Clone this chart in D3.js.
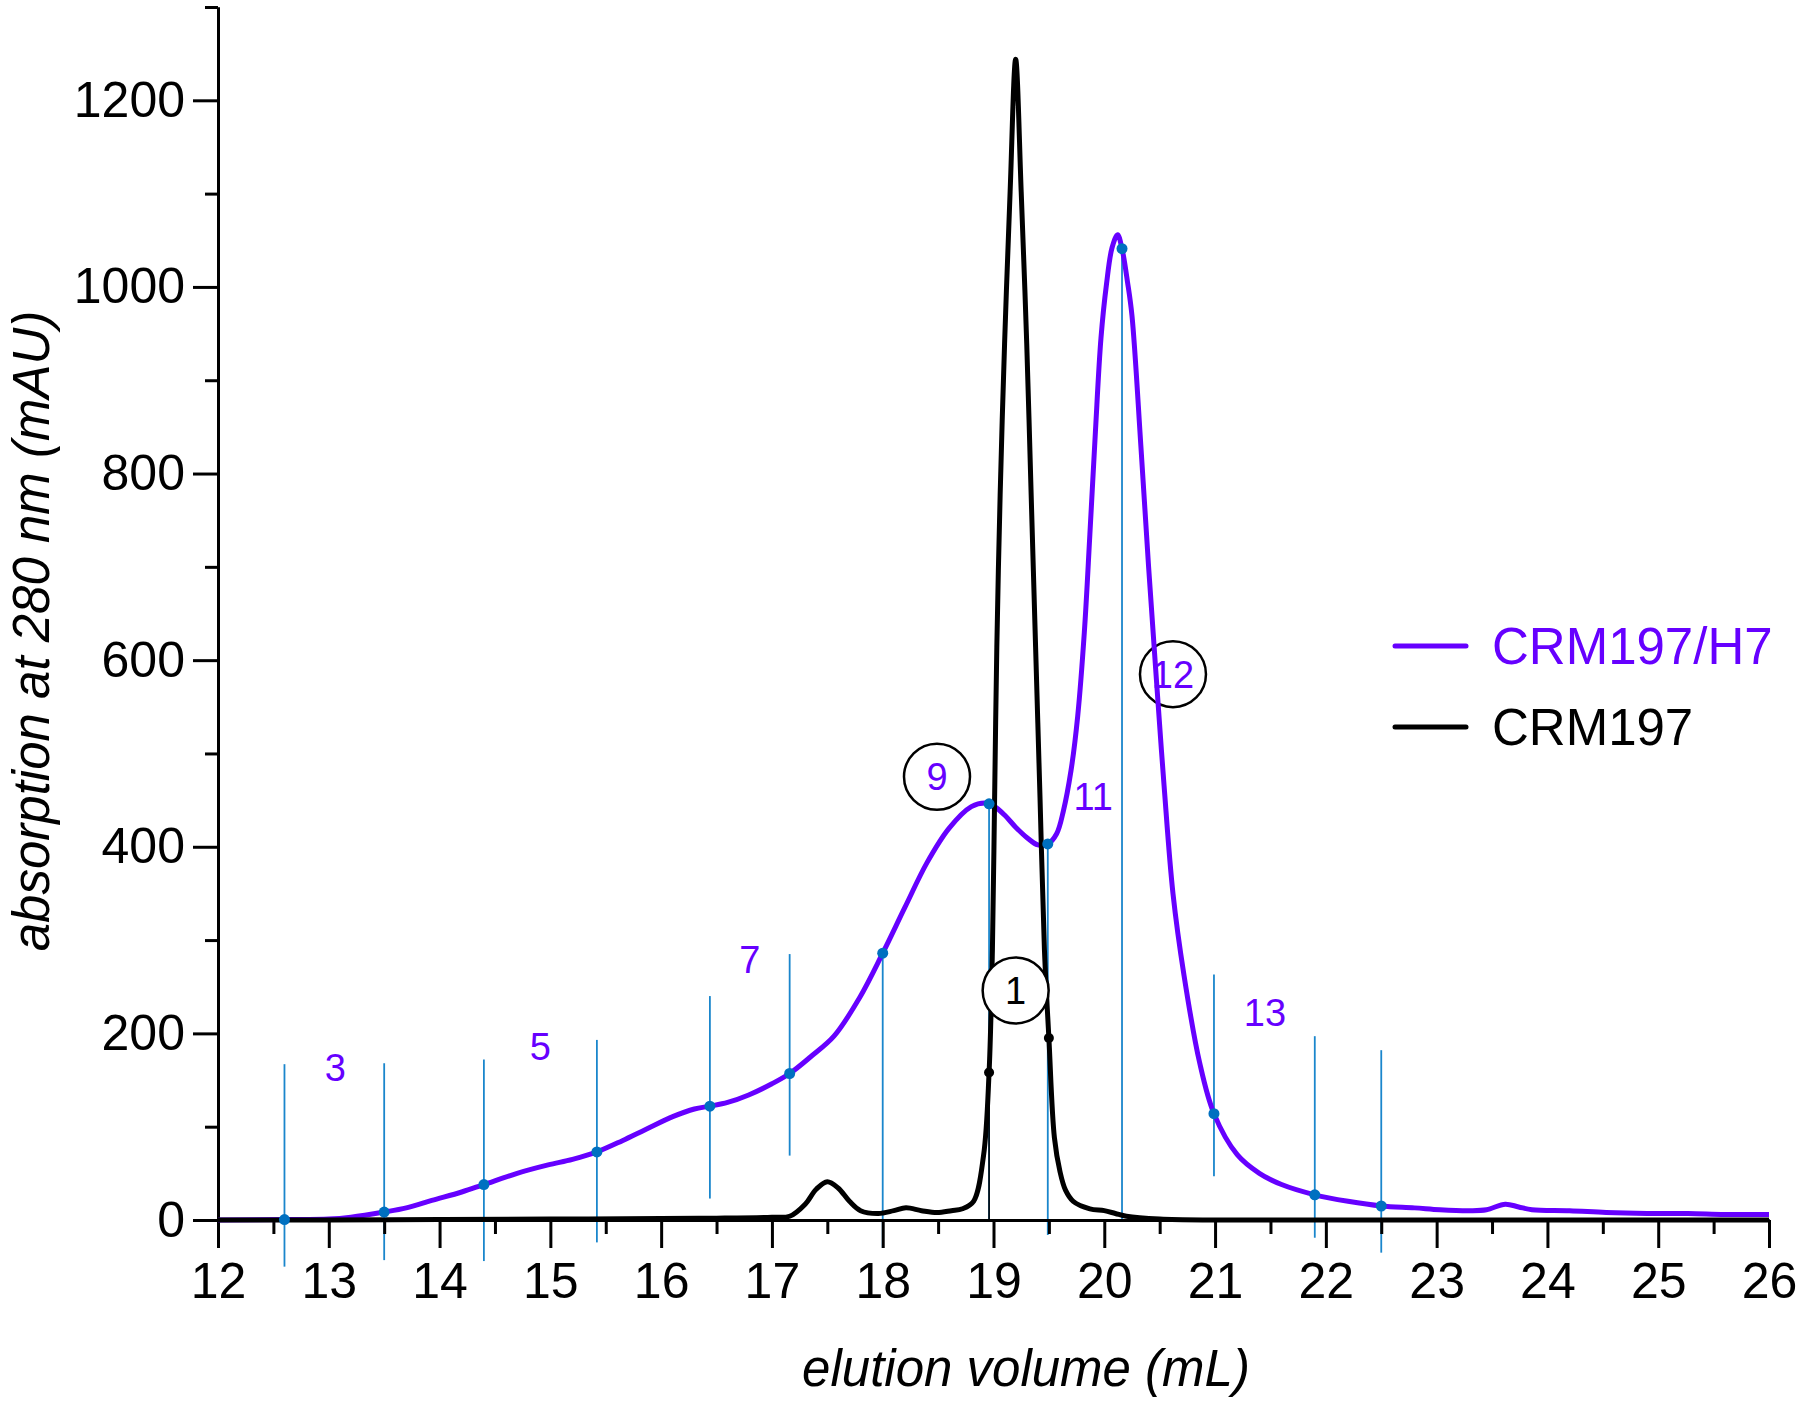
<!DOCTYPE html>
<html>
<head>
<meta charset="utf-8">
<script src="https://cdn.jsdelivr.net/npm/d3@7"></script>
<style>
  html, body { margin: 0; padding: 0; background: #ffffff; }
  svg { display: block; font-family: "Liberation Sans", Arial, sans-serif; }
</style>
</head>
<body>
<svg id="chart" width="1800" height="1407"></svg>
<script>
// ---- Data ----
const seriesNames = ["CRM197/H7", "CRM197"];

// CRM197/H7 trace: elution volume (mL), absorbance (mAU)
const h7Volume = [12.0, 12.6, 13.0, 13.2, 13.5, 13.7, 13.93, 14.2, 14.4, 14.7, 14.98, 15.2, 15.42, 15.65, 15.86, 16.11, 16.3, 16.44, 16.6, 16.79, 17.0, 17.16, 17.35, 17.56, 17.79, 18.0, 18.2, 18.4, 18.6, 18.8, 18.93, 19.0, 19.1, 19.2, 19.3, 19.4, 19.49, 19.57, 19.63, 19.7, 19.76, 19.82, 19.87, 19.92, 19.97, 20.02, 20.07, 20.12, 20.16, 20.21, 20.25, 20.33, 20.4, 20.47, 20.54, 20.62, 20.72, 20.86, 20.99, 21.2, 21.4, 21.6, 21.9, 22.2, 22.5, 22.8, 23.03, 23.3, 23.45, 23.62, 23.74, 23.86, 24.2, 24.53, 24.9, 25.27, 25.6, 26.0];
const h7Abs = [0, 0.5, 1, 3, 8.5, 13, 21, 30, 38, 50, 59, 65, 73, 85, 97, 111, 119, 122, 126, 134, 146, 157, 175, 197, 238, 286, 335, 383, 420, 443, 447, 444, 434, 421, 410, 402, 403, 414, 438, 482, 540, 630, 735, 845, 945, 1003, 1042, 1056, 1041, 1005, 969, 830, 700, 580, 465, 350, 262, 169, 114, 70, 50, 38, 27, 20, 15, 13, 11, 10, 11, 17, 14, 11, 10, 8, 7, 7, 6, 6];

// CRM197 trace
const crmVolume = [12.0, 13.0, 14.0, 15.0, 16.0, 16.5, 17.0, 17.16, 17.3, 17.4, 17.5, 17.6, 17.7, 17.8, 17.96, 18.1, 18.21, 18.35, 18.49, 18.62, 18.72, 18.82, 18.91, 18.96, 18.99, 19.01, 19.03, 19.06, 19.1, 19.15, 19.2, 19.25, 19.3, 19.34, 19.38, 19.42, 19.46, 19.5, 19.55, 19.6, 19.65, 19.72, 19.87, 20.0, 20.1, 20.2, 20.5, 21.0, 22.0, 24.0, 26.0];
const crmAbs = [0, 0, 0.5, 1, 1.5, 2, 3, 4, 17, 33, 41, 34, 20, 10, 7, 10, 13, 10, 8, 10, 12, 20, 69, 158, 289, 452, 614, 777, 939, 1102, 1244, 1102, 939, 777, 614, 452, 289, 195, 88, 52, 32, 20, 12, 10, 7, 4, 1, 0, 0, 0, 0];

// Collected fractions (blue markers)
const fractionVolume = [12.6, 13.5, 14.4, 15.42, 16.44, 17.16, 18.0, 18.96, 19.49, 20.16, 20.99, 21.9, 22.5];
const fractionAbs    = [0.5, 8.5, 38, 73, 122, 157, 286, 446, 403, 1041, 114, 27, 15];
const fractionTop    = [167, 168, 172, 193, 240, 285, 286, 446, 403, 1041, 263, 197, 182];
const fractionBottom = [-50, -43, -44, -24, 23, 69, -30, 0, -16, 0, 47, -19, -35];

// CRM197 fraction marker
const crmMarkVolume = [18.96, 19.5];
const crmMarkAbs = [158, 195];

// Fraction number labels
const fracLabelText = ["3", "5", "7", "11", "13"];
const fracLabelX = [13.06, 14.91, 16.80, 19.90, 21.45];
const fracLabelY = [164, 186, 279, 454, 223];

// Circled fraction labels
const circledText = ["9", "12", "1"];
const circledX = [18.49, 20.62, 19.20];
const circledY = [475, 585, 246];
const circledColor = ["#6600ff", "#6600ff", "#000000"];
const circledOnTop = [false, false, true];

// Axis ticks
const xMajorTicks = d3.range(12, 27, 1);
const xMinorTicks = d3.range(12.5, 26, 1);
const yMajorTicks = [0, 200, 400, 600, 800, 1000, 1200];
const yMinorTicks = [100, 300, 500, 700, 900, 1100, 1300];

const xTitle = "elution volume (mL)";
const yTitle = "absorption at 280 nm (mAU)";

// ---- Drawing ----
const purple = "#6600ff";
const dotBlue = "#0070c0";
const lineBlue = "#1a86cc";

const svg = d3.select("#chart");
const x = d3.scaleLinear().domain([12, 26]).range([218, 1769]);
const y = d3.scaleLinear().domain([0, 1300]).range([1220, 7]);

// Fraction lines (behind curves)
const fr = fractionVolume.map((v, i) => ({v, a: fractionAbs[i], t: fractionTop[i], b: fractionBottom[i]}));
svg.append("g").selectAll("line").data(fr).join("line")
  .attr("x1", d => x(d.v)).attr("x2", d => x(d.v))
  .attr("y1", d => y(d.t)).attr("y2", d => y(d.b))
  .attr("stroke", lineBlue).attr("stroke-width", 1.8);

// thin black line under CRM197 marker
svg.append("line")
  .attr("x1", x(crmMarkVolume[0])).attr("x2", x(crmMarkVolume[0]))
  .attr("y1", y(crmMarkAbs[0])).attr("y2", y(0))
  .attr("stroke", "#000").attr("stroke-width", 1.6);

// Axes
const axisG = svg.append("g");
const xAxis = d3.axisBottom(x).tickValues(xMajorTicks).tickSize(28).tickSizeOuter(0).tickPadding(14).tickFormat(d3.format("d"));
const xAxisMinor = d3.axisBottom(x).tickValues(xMinorTicks).tickSize(14).tickSizeOuter(0).tickFormat("");
const yAxis = d3.axisLeft(y).tickValues(yMajorTicks).tickSize(25).tickSizeOuter(0).tickPadding(8).tickFormat(d3.format("d"));
const yAxisMinor = d3.axisLeft(y).tickValues(yMinorTicks).tickSize(13).tickSizeOuter(0).tickFormat("");

function styleAxis(g) {
  g.selectAll("path.domain").attr("stroke", "#000").attr("stroke-width", 3);
  g.selectAll(".tick line").attr("stroke", "#000").attr("stroke-width", 3);
  g.selectAll(".tick text").attr("fill", "#000").style("font-size", "50px")
    .style("font-family", "'Liberation Sans', Arial, sans-serif");
}
axisG.append("g").attr("transform", "translate(0,1220)").call(xAxisMinor).call(styleAxis);
axisG.append("g").attr("transform", "translate(0,1220)").call(xAxis).call(styleAxis);
axisG.append("g").attr("transform", "translate(218,0)").call(yAxisMinor).call(styleAxis);
axisG.append("g").attr("transform", "translate(218,0)").call(yAxis).call(styleAxis);

// Circled labels
function drawCircled(sel) {
  const g = sel.append("g").attr("transform", d => `translate(${x(d.cx)},${y(d.cy)})`);
  g.append("circle").attr("r", 33).attr("fill", "#fff").attr("stroke", "#000").attr("stroke-width", 2.5);
  g.append("text").attr("text-anchor", "middle").attr("dy", "0.36em")
    .attr("fill", d => d.color).style("font-size", "38px").text(d => d.t);
}
const circled = circledText.map((t, i) => ({t, cx: circledX[i], cy: circledY[i], color: circledColor[i], top: circledOnTop[i]}));
svg.append("g").selectAll("g").data(circled.filter(d => !d.top)).join(enter => { const s = enter.append("g"); drawCircled(s); return s; });

// Curves
const line = d3.line().x(d => x(d[0])).y(d => y(d[1])).curve(d3.curveCatmullRom.alpha(0.5));
const h7Data = h7Volume.map((v, i) => [v, h7Abs[i]]);
const crmData = crmVolume.map((v, i) => [v, crmAbs[i]]);

svg.append("path").datum(h7Data).attr("d", line)
  .attr("fill", "none").attr("stroke", purple).attr("stroke-width", 5).attr("stroke-linejoin", "round");
svg.append("path").datum(crmData).attr("d", line)
  .attr("fill", "none").attr("stroke", "#000").attr("stroke-width", 5).attr("stroke-linejoin", "round");

// Fraction dots
svg.append("g").selectAll("circle").data(fr).join("circle")
  .attr("cx", d => x(d.v)).attr("cy", d => y(d.a)).attr("r", 5.5).attr("fill", dotBlue);
svg.append("g").selectAll("circle").data(crmMarkVolume.map((v, i) => [v, crmMarkAbs[i]])).join("circle")
  .attr("cx", d => x(d[0])).attr("cy", d => y(d[1])).attr("r", 5).attr("fill", "#000");

// Circled label drawn over the CRM197 peak
svg.append("g").selectAll("g").data(circled.filter(d => d.top)).join(enter => { const s = enter.append("g"); drawCircled(s); return s; });

// Fraction labels
svg.append("g").selectAll("text").data(fracLabelText).join("text")
  .attr("x", (d, i) => x(fracLabelX[i])).attr("y", (d, i) => y(fracLabelY[i]))
  .attr("dy", "0.36em").attr("text-anchor", "middle")
  .attr("fill", purple).style("font-size", "38px").text(d => d);

// Legend
const legendColors = [purple, "#000"];
const legendY = [646, 727];
const lg = svg.append("g").selectAll("g").data(seriesNames).join("g")
  .attr("transform", (d, i) => `translate(0,${legendY[i]})`);
lg.append("line").attr("x1", 1395).attr("x2", 1466).attr("y1", 0).attr("y2", 0)
  .attr("stroke", (d, i) => legendColors[i]).attr("stroke-width", 5).attr("stroke-linecap", "round");
lg.append("text").attr("x", 1492).attr("dy", "0.36em")
  .attr("fill", (d, i) => legendColors[i]).style("font-size", "51px").text(d => d);

// Axis titles
svg.append("text").attr("x", 1026).attr("y", 1386).attr("text-anchor", "middle")
  .style("font-size", "51px").style("font-style", "italic").attr("fill", "#000").text(xTitle);
svg.append("text").attr("transform", "translate(49,631) rotate(-90)").attr("text-anchor", "middle")
  .style("font-size", "51px").style("font-style", "italic").attr("fill", "#000").text(yTitle);
</script>
</body>
</html>
